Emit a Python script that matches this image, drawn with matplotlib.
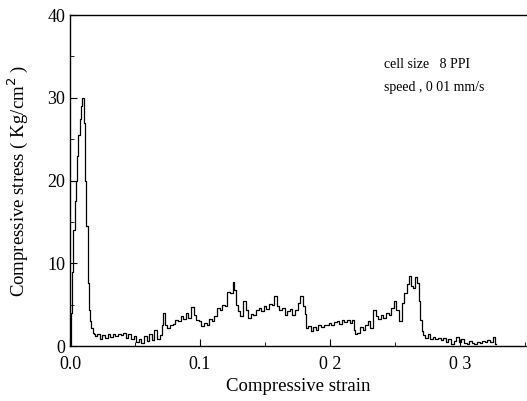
import matplotlib.pyplot as plt
from matplotlib.ticker import MultipleLocator

plt.rcParams['font.family'] = ['Liberation Serif', 'DejaVu Serif']

# stress-strain curve
strain = [0.000, 0.001, 0.002, 0.003, 0.004, 0.005, 0.006, 0.007, 0.008, 0.009,
          0.010, 0.011, 0.012, 0.013, 0.014, 0.015, 0.016, 0.017, 0.018, 0.019,
          0.020, 0.022, 0.024, 0.026, 0.028, 0.030, 0.032, 0.034, 0.036, 0.038,
          0.040, 0.042, 0.044, 0.046, 0.048, 0.050, 0.052, 0.054, 0.056, 0.058,
          0.060, 0.062, 0.064, 0.066, 0.068, 0.070, 0.071, 0.072, 0.074, 0.076,
          0.078, 0.080, 0.082, 0.084, 0.086, 0.088, 0.090, 0.092, 0.094, 0.096,
          0.098, 0.100, 0.102, 0.104, 0.106, 0.108, 0.110, 0.112, 0.114, 0.116,
          0.118, 0.120, 0.122, 0.124, 0.126, 0.127, 0.128, 0.130, 0.132, 0.134,
          0.136, 0.138, 0.140, 0.142, 0.144, 0.146, 0.148, 0.150, 0.152, 0.154,
          0.156, 0.158, 0.160, 0.162, 0.164, 0.166, 0.168, 0.170, 0.172, 0.174,
          0.176, 0.178, 0.180, 0.181, 0.182, 0.184, 0.186, 0.188, 0.190, 0.192,
          0.194, 0.196, 0.198, 0.200, 0.202, 0.204, 0.206, 0.208, 0.210, 0.212,
          0.214, 0.216, 0.218, 0.219, 0.220, 0.222, 0.224, 0.226, 0.228, 0.230,
          0.232, 0.234, 0.236, 0.238, 0.240, 0.242, 0.244, 0.246, 0.248, 0.250,
          0.252, 0.254, 0.256, 0.258, 0.260, 0.262, 0.263, 0.264, 0.266, 0.268,
          0.269, 0.270, 0.271, 0.272, 0.274, 0.276, 0.278, 0.280, 0.282, 0.284,
          0.286, 0.288, 0.290, 0.292, 0.294, 0.296, 0.298, 0.300, 0.302, 0.304,
          0.306, 0.308, 0.310, 0.312, 0.314, 0.316, 0.318, 0.320, 0.322, 0.324,
          0.326, 0.328]
stress = [0.0, 4.0, 9.0, 14.0, 17.5, 20.0, 23.0, 25.5, 27.5, 29.0,
          30.0, 27.0, 20.0, 14.5, 7.6, 4.3, 3.0, 2.2, 1.6, 1.4,
          1.2, 1.4, 0.9, 1.3, 1.0, 1.4, 1.1, 1.5, 1.2, 1.5,
          1.3, 1.6, 1.0, 1.4, 0.8, 1.2, 0.5, 0.9, 0.4, 1.2,
          0.6, 1.5, 0.7, 2.0, 0.9, 1.3, 2.5, 4.0, 2.5, 2.2,
          2.5, 2.7, 3.2, 3.0, 3.6, 3.3, 4.0, 3.4, 4.7, 3.8,
          3.2, 3.0, 2.4, 2.8, 2.6, 3.3, 3.0, 3.6, 4.6, 4.3,
          5.0, 4.8, 6.5, 6.4, 7.7, 6.8, 5.0, 4.2, 3.6, 5.4,
          4.3, 3.4, 3.9, 3.8, 4.3, 4.6, 4.2, 4.8, 4.5, 5.1,
          5.0, 6.0, 4.9, 4.4, 4.6, 3.7, 4.2, 4.5, 3.8, 4.4,
          5.2, 6.0, 4.8, 3.9, 2.2, 2.4, 1.8, 2.3, 2.0, 2.5,
          2.3, 2.6, 2.5, 2.8, 2.6, 2.9, 3.0, 2.7, 3.1, 2.9,
          3.2, 2.8, 3.1, 2.0, 1.4, 1.6, 2.3, 2.0, 2.6, 3.0,
          2.2, 4.3, 3.6, 3.3, 3.8, 3.4, 4.0, 3.7, 4.6, 5.5,
          4.4, 3.0, 5.2, 6.4, 7.5, 8.5, 7.2, 7.0, 8.3, 7.6,
          5.5, 3.2, 1.8, 1.3, 1.0, 1.5, 0.9, 1.1, 0.8, 1.0,
          0.7, 1.0, 0.5, 0.8, 0.3, 0.6, 1.1, 0.5, 0.9, 0.4,
          0.3, 0.6, 0.4, 0.3, 0.5, 0.4, 0.6, 0.5, 0.7, 0.5,
          1.1, 0.2]

xticks = [0.0, 0.1, 0.2, 0.3]
xtick_labels = ['0.0', '0.1', '0 2', '0 3']
yticks = [0, 10, 20, 30, 40]

fig = plt.figure(figsize=(5.27, 4.01), dpi=100)
ax = fig.add_axes([0.1328, 0.137, 0.8672, 0.8254])

ax.plot(strain, stress, color='black', lw=0.9, drawstyle='steps-mid')

ax.set_xlim(0, 0.3515)
ax.set_ylim(0, 40)
ax.set_xticks(xticks)
ax.set_xticklabels(xtick_labels)
ax.set_yticks(yticks)
ax.xaxis.set_minor_locator(MultipleLocator(0.05))
ax.yaxis.set_minor_locator(MultipleLocator(5))
ax.tick_params(which='both', direction='in', labelsize=13, top=False, right=False)
ax.tick_params(which='major', length=5)
ax.tick_params(which='minor', length=3)
ax.tick_params(axis='x', pad=7)
ax.spines['right'].set_visible(False)
for s in ['left', 'bottom', 'top']:
    ax.spines[s].set_linewidth(1.0)

ax.set_xlabel('Compressive strain', fontsize=13.5, labelpad=4)
ax.set_ylabel('Compressive stress ( Kg/cm$^2$ )', fontsize=13.5, labelpad=12)

ax.text(0.2415, 34.0, 'cell size   8 PPI', fontsize=10, va='center')
ax.text(0.2415, 31.3, 'speed , 0 01 mm/s', fontsize=10, va='center')

fig.savefig('out.png', dpi=100)
